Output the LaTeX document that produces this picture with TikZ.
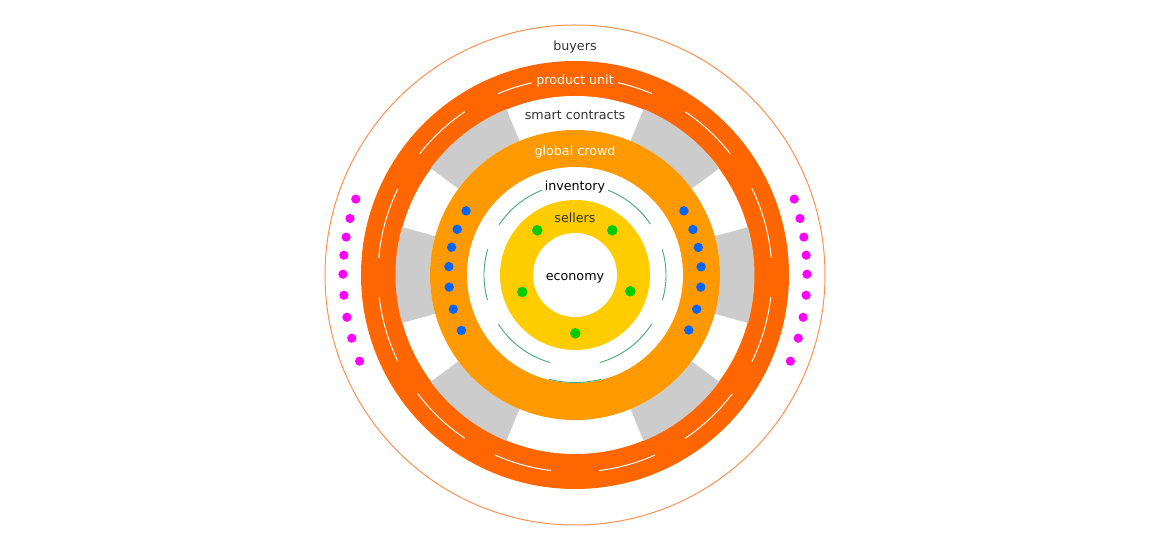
\documentclass[tikz,border=0pt]{standalone}
\usepackage{fontspec}
\setmainfont{DejaVu Sans}
\definecolor{produnit}{HTML}{FF6600}
\definecolor{crowd}{HTML}{FF9900}
\definecolor{sellc}{HTML}{FFCC00}
\definecolor{spoke}{HTML}{CCCCCC}
\definecolor{gdot}{HTML}{00CC00}
\definecolor{bdot}{HTML}{0066FF}
\definecolor{mdot}{HTML}{FF00FF}
\definecolor{invline}{HTML}{44AA77}
\definecolor{outerline}{HTML}{FF9050}
\definecolor{darktext}{HTML}{333333}
\begin{document}
\begin{tikzpicture}[x=1bp,y=1bp,
  txt/.style={font=\fontsize{12.7bp}{15bp}\selectfont, anchor=base, inner sep=0pt},
  mdotst/.style={fill=mdot},
  bdotst/.style={fill=bdot},
  gdotst/.style={fill=gdot},
  dashline/.style={draw=white, line width=1bp},
  invarc/.style={draw=invline, line width=0.9bp}]
\useasboundingbox (-575,-275) rectangle (575,275);
% outer thin circle (buyers)
\draw[outerline, line width=1bp] (0,0) circle (250);
% magenta dots
\foreach \a in {160.9,165.9,170.6,175.1,179.8,185,190.5,195.8,201.8}{
  \fill[mdotst] (\a:232) circle (4.6);
  \fill[mdotst] ({180-\a}:232) circle (4.6);
}
% product unit ring
\fill[produnit] (0,0) circle (214);
\fill[white] (0,0) circle (179);
\foreach \s/\e in {5/26,38/56,67/87,-26/-6.5,-56/-37,-83/-66}{
  \draw[dashline] (\s:197) arc[start angle=\s, end angle=\e, radius=197];
  \draw[dashline] ({180-\e}:197) arc[start angle={180-\e}, end angle={180-\s}, radius=197];
}
% grey spokes (smart contracts)
\foreach \c in {0,52,128,180,232,308}{
  \fill[spoke] ({\c-15.5}:179.5) arc[start angle={\c-15.5}, end angle={\c+15.5}, radius=179.5]
    -- ({\c+15.5}:145) arc[start angle={\c+15.5}, end angle={\c-15.5}, radius=145] -- cycle;
}
% global crowd ring
\fill[crowd] (0,0) circle (145);
\fill[white] (0,0) circle (108);
\draw[invarc] (256:107.5) arc[start angle=256, end angle=284, radius=107.5];
% inventory arcs
\foreach \s/\e in {-16/16.4,34/70,110/146.5,163.6/196,212.6/254.2,285.8/327.4}{
  \draw[invarc] (\s:91) arc[start angle=\s, end angle=\e, radius=91];
}
% sellers ring
\fill[sellc] (0,0) circle (75);
\fill[white] (0,0) circle (42);
% green dots
\foreach \p in {(-37.7,44.7),(37.3,44.7),(-52.7,-17),(55.3,-16.3),(0.3,-58.3)}{
  \fill[gdotst] \p circle (5.3);
}
% blue dots
\foreach \a in {149.5,158.8,167.3,176.2,185.5,195.7,206}{
  \fill[bdotst] (\a:126.4) circle (4.7);
}
\foreach \a in {30.5,21.1,12.6,3.7,-5.5,-15.7,-25.8}{
  \fill[bdotst] (\a:126.4) circle (4.7);
}
% labels
\node[txt, text=darktext] (buyers) at (0,224.5) {buyers};
\node[txt, text=white, fill=produnit, inner xsep=4.5bp, inner ysep=1bp] (produnitlbl) at (0,190.5) {product unit};
\node[txt, text=darktext] (smart) at (0,155) {smart contracts};
\node[txt, text=white] (crowdlbl) at (0,119) {global crowd};
\node[txt, text=black, fill=white, inner xsep=2.5bp, inner ysep=1bp] (inventory) at (0,84.5) {inventory};
\node[txt, text=darktext] (sellers) at (0,52.5) {sellers};
\node[txt, text=black] (economy) at (0,-5.5) {economy};
\end{tikzpicture}
\end{document}
